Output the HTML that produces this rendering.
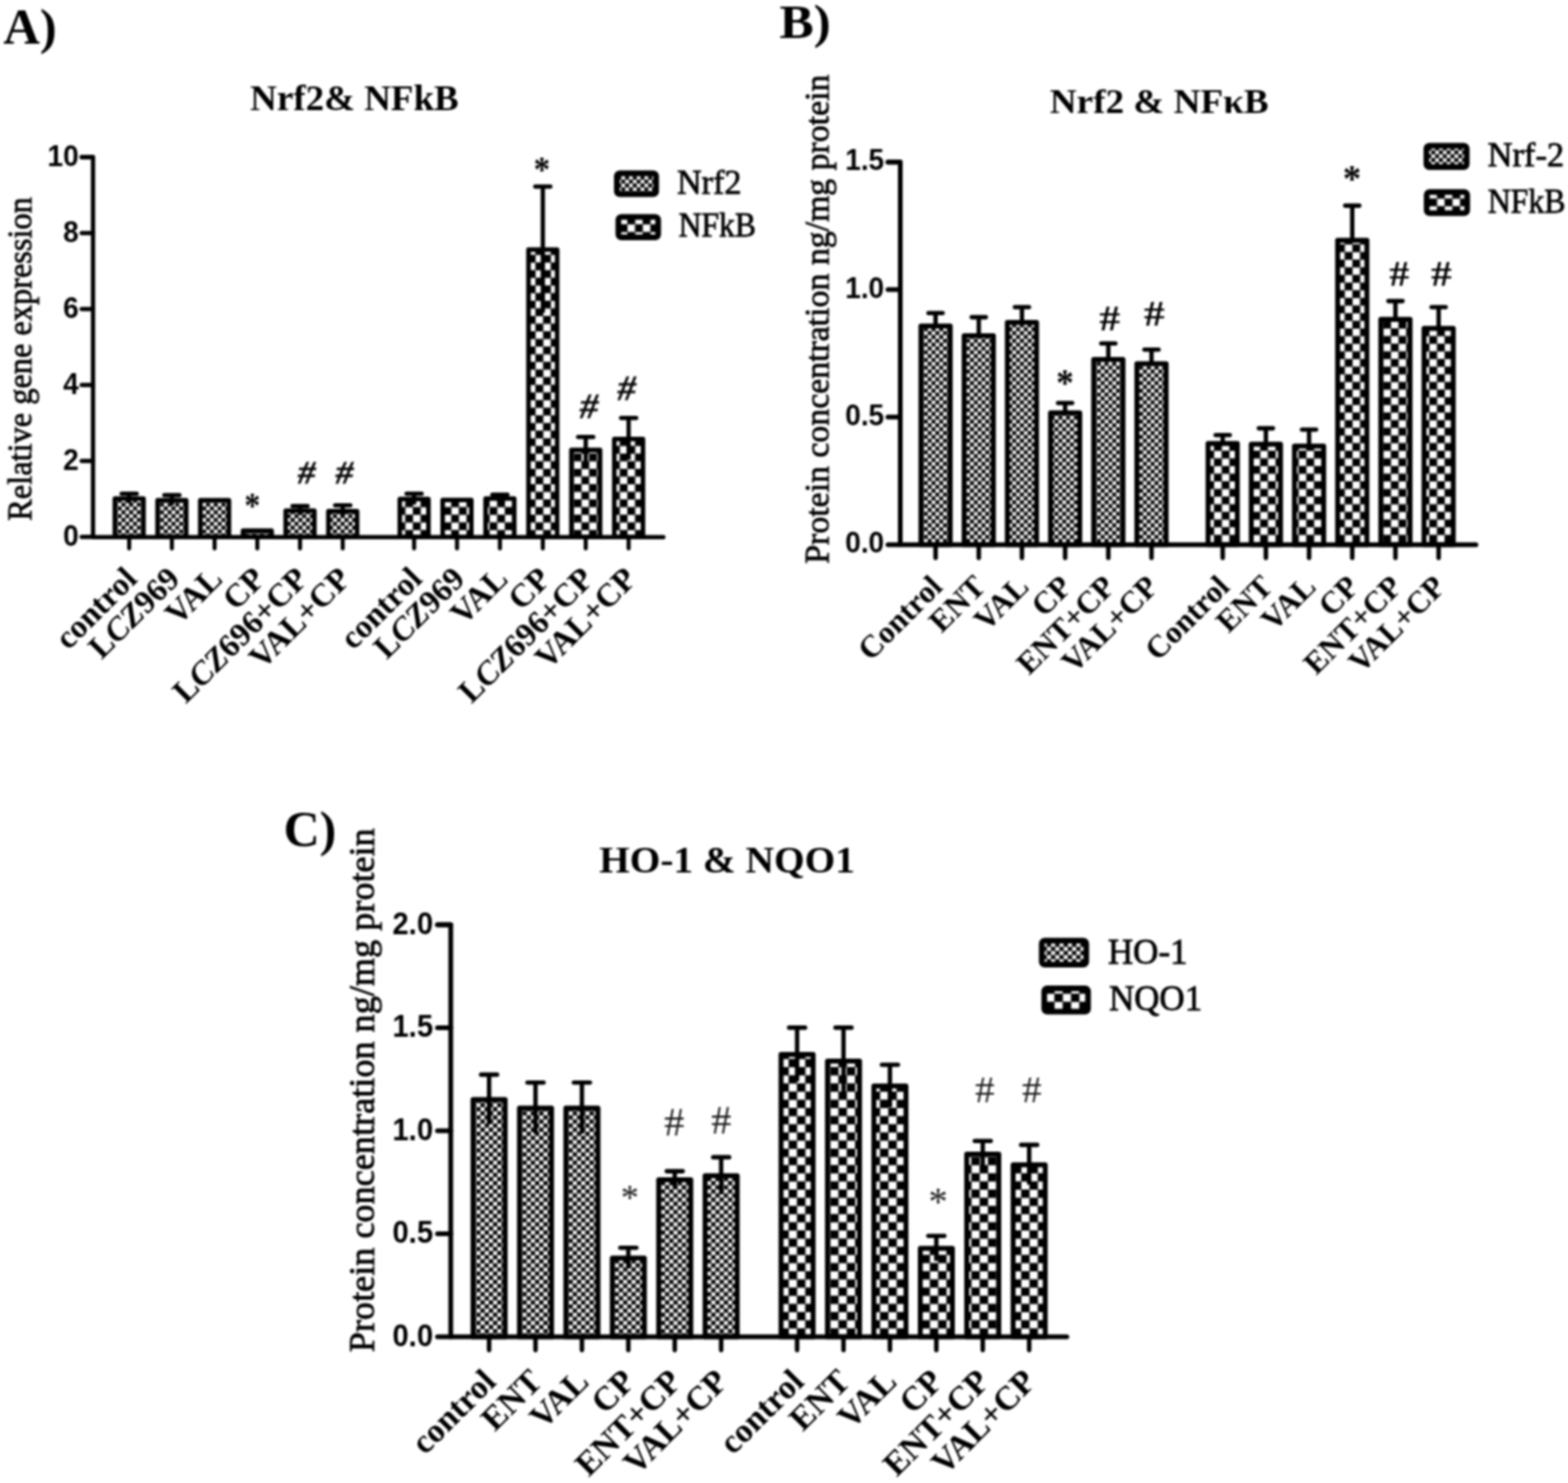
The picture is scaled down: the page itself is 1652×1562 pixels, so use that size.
<!DOCTYPE html>
<html><head><meta charset="utf-8"><title>Figure</title>
<style>html,body{margin:0;padding:0;background:#fff;}body{width:1652px;height:1562px;overflow:hidden;}svg{display:block;filter:blur(0.9px);}</style>
</head><body>
<svg width="1652" height="1562" viewBox="0 0 1652 1562"><defs>
<pattern id="fA" patternUnits="userSpaceOnUse" width="8.100" height="8.100" x="128.10" y="533.50"><rect width="8.100" height="8.100" fill="#000"/><rect x="0.061" y="0.061" width="3.928" height="3.928" fill="#fff"/><rect x="4.111" y="4.111" width="3.928" height="3.928" fill="#fff"/></pattern>
<pattern id="cA" patternUnits="userSpaceOnUse" width="16.140" height="16.100" x="564.20" y="397.30"><rect width="16.140" height="16.100" fill="#000"/><rect x="0.121" y="0.121" width="7.828" height="7.809" fill="#fff"/><rect x="8.191" y="8.171" width="7.828" height="7.809" fill="#fff"/></pattern>
<pattern id="fB" patternUnits="userSpaceOnUse" width="8.100" height="8.100" x="1022.00" y="405.50"><rect width="8.100" height="8.100" fill="#000"/><rect x="0.061" y="0.061" width="3.928" height="3.928" fill="#fff"/><rect x="4.111" y="4.111" width="3.928" height="3.928" fill="#fff"/></pattern>
<pattern id="cB" patternUnits="userSpaceOnUse" width="16.200" height="16.100" x="1457.30" y="410.40"><rect width="16.200" height="16.100" fill="#000"/><rect x="0.122" y="0.121" width="7.857" height="7.809" fill="#fff"/><rect x="8.221" y="8.171" width="7.857" height="7.809" fill="#fff"/></pattern>
<pattern id="fC" patternUnits="userSpaceOnUse" width="8.840" height="8.660" x="506.24" y="1252.73"><rect width="8.840" height="8.660" fill="#000"/><rect x="0.066" y="0.065" width="4.287" height="4.200" fill="#fff"/><rect x="4.486" y="4.395" width="4.287" height="4.200" fill="#fff"/></pattern>
<pattern id="cC" patternUnits="userSpaceOnUse" width="17.500" height="17.200" x="839.70" y="1253.00"><rect width="17.500" height="17.200" fill="#000"/><rect x="0.131" y="0.129" width="8.487" height="8.342" fill="#fff"/><rect x="8.881" y="8.729" width="8.487" height="8.342" fill="#fff"/></pattern>
</defs><rect width="1652" height="1562" fill="#fff"/><rect x="121.00" y="525.10" width="30.20" height="40.60" fill="url(#fA)" stroke="#000" stroke-width="4.8" stroke-linejoin="round"/>
<rect x="166.00" y="526.90" width="30.20" height="38.80" fill="url(#fA)" stroke="#000" stroke-width="4.8" stroke-linejoin="round"/>
<rect x="211.00" y="526.90" width="30.20" height="38.80" fill="url(#fA)" stroke="#000" stroke-width="4.8" stroke-linejoin="round"/>
<rect x="256.00" y="559.00" width="30.20" height="6.70" fill="url(#fA)" stroke="#000" stroke-width="4.8" stroke-linejoin="round"/>
<rect x="301.00" y="537.80" width="30.20" height="27.90" fill="url(#fA)" stroke="#000" stroke-width="4.8" stroke-linejoin="round"/>
<rect x="346.00" y="538.40" width="30.20" height="27.30" fill="url(#fA)" stroke="#000" stroke-width="4.8" stroke-linejoin="round"/>
<rect x="421.20" y="525.70" width="30.20" height="40.00" fill="url(#cA)" stroke="#000" stroke-width="4.8" stroke-linejoin="round"/>
<rect x="466.40" y="526.60" width="30.20" height="39.10" fill="url(#cA)" stroke="#000" stroke-width="4.8" stroke-linejoin="round"/>
<rect x="511.60" y="525.10" width="30.20" height="40.60" fill="url(#cA)" stroke="#000" stroke-width="4.8" stroke-linejoin="round"/>
<rect x="556.80" y="262.80" width="30.20" height="302.90" fill="url(#cA)" stroke="#000" stroke-width="4.8" stroke-linejoin="round"/>
<rect x="602.00" y="474.00" width="30.20" height="91.70" fill="url(#cA)" stroke="#000" stroke-width="4.8" stroke-linejoin="round"/>
<rect x="647.20" y="462.30" width="30.20" height="103.40" fill="url(#cA)" stroke="#000" stroke-width="4.8" stroke-linejoin="round"/>
<line x1="136.10" y1="520.00" x2="136.10" y2="530.20" stroke="#000" stroke-width="4.5" stroke-linecap="butt"/>
<line x1="128.10" y1="520.00" x2="144.10" y2="520.00" stroke="#000" stroke-width="4.5" stroke-linecap="round"/>
<line x1="181.10" y1="521.60" x2="181.10" y2="532.20" stroke="#000" stroke-width="4.5" stroke-linecap="butt"/>
<line x1="173.10" y1="521.60" x2="189.10" y2="521.60" stroke="#000" stroke-width="4.5" stroke-linecap="round"/>
<line x1="316.10" y1="533.00" x2="316.10" y2="542.60" stroke="#000" stroke-width="4.5" stroke-linecap="butt"/>
<line x1="308.10" y1="533.00" x2="324.10" y2="533.00" stroke="#000" stroke-width="4.5" stroke-linecap="round"/>
<line x1="361.10" y1="532.30" x2="361.10" y2="544.50" stroke="#000" stroke-width="4.5" stroke-linecap="butt"/>
<line x1="353.10" y1="532.30" x2="369.10" y2="532.30" stroke="#000" stroke-width="4.5" stroke-linecap="round"/>
<line x1="436.30" y1="520.00" x2="436.30" y2="531.40" stroke="#000" stroke-width="4.5" stroke-linecap="butt"/>
<line x1="428.30" y1="520.00" x2="444.30" y2="520.00" stroke="#000" stroke-width="4.5" stroke-linecap="round"/>
<line x1="526.70" y1="521.00" x2="526.70" y2="529.20" stroke="#000" stroke-width="4.5" stroke-linecap="butt"/>
<line x1="518.70" y1="521.00" x2="534.70" y2="521.00" stroke="#000" stroke-width="4.5" stroke-linecap="round"/>
<line x1="571.90" y1="196.40" x2="571.90" y2="329.20" stroke="#000" stroke-width="4.5" stroke-linecap="butt"/>
<line x1="563.90" y1="196.40" x2="579.90" y2="196.40" stroke="#000" stroke-width="4.5" stroke-linecap="round"/>
<line x1="617.10" y1="460.30" x2="617.10" y2="487.70" stroke="#000" stroke-width="4.5" stroke-linecap="butt"/>
<line x1="609.10" y1="460.30" x2="625.10" y2="460.30" stroke="#000" stroke-width="4.5" stroke-linecap="round"/>
<line x1="662.30" y1="440.30" x2="662.30" y2="484.30" stroke="#000" stroke-width="4.5" stroke-linecap="butt"/>
<line x1="654.30" y1="440.30" x2="670.30" y2="440.30" stroke="#000" stroke-width="4.5" stroke-linecap="round"/>
<path d="M86.00,165.40 H98.00 V565.70 H699.00" fill="none" stroke="#000" stroke-width="4.5" stroke-linejoin="round" stroke-linecap="round"/>
<line x1="86.00" y1="165.40" x2="98.00" y2="165.40" stroke="#000" stroke-width="4.5" stroke-linecap="round"/>
<line x1="86.00" y1="245.40" x2="98.00" y2="245.40" stroke="#000" stroke-width="4.5" stroke-linecap="round"/>
<line x1="86.00" y1="325.40" x2="98.00" y2="325.40" stroke="#000" stroke-width="4.5" stroke-linecap="round"/>
<line x1="86.00" y1="405.40" x2="98.00" y2="405.40" stroke="#000" stroke-width="4.5" stroke-linecap="round"/>
<line x1="86.00" y1="485.40" x2="98.00" y2="485.40" stroke="#000" stroke-width="4.5" stroke-linecap="round"/>
<line x1="86.00" y1="565.40" x2="98.00" y2="565.40" stroke="#000" stroke-width="4.5" stroke-linecap="round"/>
<line x1="136.10" y1="565.70" x2="136.10" y2="577.70" stroke="#000" stroke-width="4.2749999999999995" stroke-linecap="round"/>
<line x1="181.10" y1="565.70" x2="181.10" y2="577.70" stroke="#000" stroke-width="4.2749999999999995" stroke-linecap="round"/>
<line x1="226.10" y1="565.70" x2="226.10" y2="577.70" stroke="#000" stroke-width="4.2749999999999995" stroke-linecap="round"/>
<line x1="271.10" y1="565.70" x2="271.10" y2="577.70" stroke="#000" stroke-width="4.2749999999999995" stroke-linecap="round"/>
<line x1="316.10" y1="565.70" x2="316.10" y2="577.70" stroke="#000" stroke-width="4.2749999999999995" stroke-linecap="round"/>
<line x1="361.10" y1="565.70" x2="361.10" y2="577.70" stroke="#000" stroke-width="4.2749999999999995" stroke-linecap="round"/>
<line x1="436.30" y1="565.70" x2="436.30" y2="577.70" stroke="#000" stroke-width="4.2749999999999995" stroke-linecap="round"/>
<line x1="481.50" y1="565.70" x2="481.50" y2="577.70" stroke="#000" stroke-width="4.2749999999999995" stroke-linecap="round"/>
<line x1="526.70" y1="565.70" x2="526.70" y2="577.70" stroke="#000" stroke-width="4.2749999999999995" stroke-linecap="round"/>
<line x1="571.90" y1="565.70" x2="571.90" y2="577.70" stroke="#000" stroke-width="4.2749999999999995" stroke-linecap="round"/>
<line x1="617.10" y1="565.70" x2="617.10" y2="577.70" stroke="#000" stroke-width="4.2749999999999995" stroke-linecap="round"/>
<line x1="662.30" y1="565.70" x2="662.30" y2="577.70" stroke="#000" stroke-width="4.2749999999999995" stroke-linecap="round"/>
<rect x="970.30" y="343.40" width="30.80" height="230.30" fill="url(#fB)" stroke="#000" stroke-width="5.2" stroke-linejoin="round"/>
<rect x="1015.80" y="353.50" width="30.80" height="220.20" fill="url(#fB)" stroke="#000" stroke-width="5.2" stroke-linejoin="round"/>
<rect x="1061.30" y="339.60" width="30.80" height="234.10" fill="url(#fB)" stroke="#000" stroke-width="5.2" stroke-linejoin="round"/>
<rect x="1106.80" y="434.80" width="30.80" height="138.90" fill="url(#fB)" stroke="#000" stroke-width="5.2" stroke-linejoin="round"/>
<rect x="1152.30" y="378.50" width="30.80" height="195.20" fill="url(#fB)" stroke="#000" stroke-width="5.2" stroke-linejoin="round"/>
<rect x="1197.80" y="383.00" width="30.80" height="190.70" fill="url(#fB)" stroke="#000" stroke-width="5.2" stroke-linejoin="round"/>
<rect x="1272.80" y="467.10" width="30.80" height="106.60" fill="url(#cB)" stroke="#000" stroke-width="5.2" stroke-linejoin="round"/>
<rect x="1318.30" y="467.80" width="30.80" height="105.90" fill="url(#cB)" stroke="#000" stroke-width="5.2" stroke-linejoin="round"/>
<rect x="1363.80" y="469.90" width="30.80" height="103.80" fill="url(#cB)" stroke="#000" stroke-width="5.2" stroke-linejoin="round"/>
<rect x="1409.30" y="253.10" width="30.80" height="320.60" fill="url(#cB)" stroke="#000" stroke-width="5.2" stroke-linejoin="round"/>
<rect x="1454.80" y="336.30" width="30.80" height="237.40" fill="url(#cB)" stroke="#000" stroke-width="5.2" stroke-linejoin="round"/>
<rect x="1500.30" y="345.90" width="30.80" height="227.80" fill="url(#cB)" stroke="#000" stroke-width="5.2" stroke-linejoin="round"/>
<line x1="985.70" y1="329.80" x2="985.70" y2="343.40" stroke="#000" stroke-width="4.6" stroke-linecap="butt"/>
<line x1="978.20" y1="329.80" x2="993.20" y2="329.80" stroke="#000" stroke-width="4.6" stroke-linecap="round"/>
<line x1="1031.20" y1="334.10" x2="1031.20" y2="353.50" stroke="#000" stroke-width="4.6" stroke-linecap="butt"/>
<line x1="1023.70" y1="334.10" x2="1038.70" y2="334.10" stroke="#000" stroke-width="4.6" stroke-linecap="round"/>
<line x1="1076.70" y1="323.50" x2="1076.70" y2="339.60" stroke="#000" stroke-width="4.6" stroke-linecap="butt"/>
<line x1="1069.20" y1="323.50" x2="1084.20" y2="323.50" stroke="#000" stroke-width="4.6" stroke-linecap="round"/>
<line x1="1122.20" y1="424.50" x2="1122.20" y2="434.80" stroke="#000" stroke-width="4.6" stroke-linecap="butt"/>
<line x1="1114.70" y1="424.50" x2="1129.70" y2="424.50" stroke="#000" stroke-width="4.6" stroke-linecap="round"/>
<line x1="1167.70" y1="361.80" x2="1167.70" y2="378.50" stroke="#000" stroke-width="4.6" stroke-linecap="butt"/>
<line x1="1160.20" y1="361.80" x2="1175.20" y2="361.80" stroke="#000" stroke-width="4.6" stroke-linecap="round"/>
<line x1="1213.20" y1="368.20" x2="1213.20" y2="383.00" stroke="#000" stroke-width="4.6" stroke-linecap="butt"/>
<line x1="1205.70" y1="368.20" x2="1220.70" y2="368.20" stroke="#000" stroke-width="4.6" stroke-linecap="round"/>
<line x1="1288.20" y1="458.20" x2="1288.20" y2="467.10" stroke="#000" stroke-width="4.6" stroke-linecap="butt"/>
<line x1="1280.70" y1="458.20" x2="1295.70" y2="458.20" stroke="#000" stroke-width="4.6" stroke-linecap="round"/>
<line x1="1333.70" y1="451.10" x2="1333.70" y2="467.80" stroke="#000" stroke-width="4.6" stroke-linecap="butt"/>
<line x1="1326.20" y1="451.10" x2="1341.20" y2="451.10" stroke="#000" stroke-width="4.6" stroke-linecap="round"/>
<line x1="1379.20" y1="452.50" x2="1379.20" y2="469.90" stroke="#000" stroke-width="4.6" stroke-linecap="butt"/>
<line x1="1371.70" y1="452.50" x2="1386.70" y2="452.50" stroke="#000" stroke-width="4.6" stroke-linecap="round"/>
<line x1="1424.70" y1="216.60" x2="1424.70" y2="253.10" stroke="#000" stroke-width="4.6" stroke-linecap="butt"/>
<line x1="1417.20" y1="216.60" x2="1432.20" y2="216.60" stroke="#000" stroke-width="4.6" stroke-linecap="round"/>
<line x1="1470.20" y1="317.10" x2="1470.20" y2="336.30" stroke="#000" stroke-width="4.6" stroke-linecap="butt"/>
<line x1="1462.70" y1="317.10" x2="1477.70" y2="317.10" stroke="#000" stroke-width="4.6" stroke-linecap="round"/>
<line x1="1515.70" y1="323.50" x2="1515.70" y2="345.90" stroke="#000" stroke-width="4.6" stroke-linecap="butt"/>
<line x1="1508.20" y1="323.50" x2="1523.20" y2="323.50" stroke="#000" stroke-width="4.6" stroke-linecap="round"/>
<path d="M935.50,170.70 H948.50 V573.70 H1555.00" fill="none" stroke="#000" stroke-width="5.0" stroke-linejoin="round" stroke-linecap="round"/>
<line x1="935.50" y1="170.70" x2="948.50" y2="170.70" stroke="#000" stroke-width="5.0" stroke-linecap="round"/>
<line x1="935.50" y1="305.03" x2="948.50" y2="305.03" stroke="#000" stroke-width="5.0" stroke-linecap="round"/>
<line x1="935.50" y1="439.36" x2="948.50" y2="439.36" stroke="#000" stroke-width="5.0" stroke-linecap="round"/>
<line x1="935.50" y1="573.69" x2="948.50" y2="573.69" stroke="#000" stroke-width="5.0" stroke-linecap="round"/>
<line x1="985.70" y1="573.70" x2="985.70" y2="587.70" stroke="#000" stroke-width="4.75" stroke-linecap="round"/>
<line x1="1031.20" y1="573.70" x2="1031.20" y2="587.70" stroke="#000" stroke-width="4.75" stroke-linecap="round"/>
<line x1="1076.70" y1="573.70" x2="1076.70" y2="587.70" stroke="#000" stroke-width="4.75" stroke-linecap="round"/>
<line x1="1122.20" y1="573.70" x2="1122.20" y2="587.70" stroke="#000" stroke-width="4.75" stroke-linecap="round"/>
<line x1="1167.70" y1="573.70" x2="1167.70" y2="587.70" stroke="#000" stroke-width="4.75" stroke-linecap="round"/>
<line x1="1213.20" y1="573.70" x2="1213.20" y2="587.70" stroke="#000" stroke-width="4.75" stroke-linecap="round"/>
<line x1="1288.20" y1="573.70" x2="1288.20" y2="587.70" stroke="#000" stroke-width="4.75" stroke-linecap="round"/>
<line x1="1333.70" y1="573.70" x2="1333.70" y2="587.70" stroke="#000" stroke-width="4.75" stroke-linecap="round"/>
<line x1="1379.20" y1="573.70" x2="1379.20" y2="587.70" stroke="#000" stroke-width="4.75" stroke-linecap="round"/>
<line x1="1424.70" y1="573.70" x2="1424.70" y2="587.70" stroke="#000" stroke-width="4.75" stroke-linecap="round"/>
<line x1="1470.20" y1="573.70" x2="1470.20" y2="587.70" stroke="#000" stroke-width="4.75" stroke-linecap="round"/>
<line x1="1515.70" y1="573.70" x2="1515.70" y2="587.70" stroke="#000" stroke-width="4.75" stroke-linecap="round"/>
<rect x="498.40" y="1158.10" width="33.80" height="249.90" fill="url(#fC)" stroke="#000" stroke-width="5.2" stroke-linejoin="round"/>
<rect x="547.30" y="1167.10" width="33.80" height="240.90" fill="url(#fC)" stroke="#000" stroke-width="5.2" stroke-linejoin="round"/>
<rect x="596.20" y="1167.10" width="33.80" height="240.90" fill="url(#fC)" stroke="#000" stroke-width="5.2" stroke-linejoin="round"/>
<rect x="645.10" y="1325.20" width="33.80" height="82.80" fill="url(#fC)" stroke="#000" stroke-width="5.2" stroke-linejoin="round"/>
<rect x="694.00" y="1242.70" width="33.80" height="165.30" fill="url(#fC)" stroke="#000" stroke-width="5.2" stroke-linejoin="round"/>
<rect x="742.90" y="1238.40" width="33.80" height="169.60" fill="url(#fC)" stroke="#000" stroke-width="5.2" stroke-linejoin="round"/>
<rect x="822.90" y="1110.60" width="33.80" height="297.40" fill="url(#cC)" stroke="#000" stroke-width="5.2" stroke-linejoin="round"/>
<rect x="871.80" y="1117.70" width="33.80" height="290.30" fill="url(#cC)" stroke="#000" stroke-width="5.2" stroke-linejoin="round"/>
<rect x="920.70" y="1143.90" width="33.80" height="264.10" fill="url(#cC)" stroke="#000" stroke-width="5.2" stroke-linejoin="round"/>
<rect x="969.60" y="1314.90" width="33.80" height="93.10" fill="url(#cC)" stroke="#000" stroke-width="5.2" stroke-linejoin="round"/>
<rect x="1018.50" y="1215.60" width="33.80" height="192.40" fill="url(#cC)" stroke="#000" stroke-width="5.2" stroke-linejoin="round"/>
<rect x="1067.40" y="1226.80" width="33.80" height="181.20" fill="url(#cC)" stroke="#000" stroke-width="5.2" stroke-linejoin="round"/>
<line x1="515.30" y1="1131.90" x2="515.30" y2="1184.30" stroke="#000" stroke-width="4.6" stroke-linecap="butt"/>
<line x1="506.80" y1="1131.90" x2="523.80" y2="1131.90" stroke="#000" stroke-width="4.6" stroke-linecap="round"/>
<line x1="564.20" y1="1140.20" x2="564.20" y2="1194.00" stroke="#000" stroke-width="4.6" stroke-linecap="butt"/>
<line x1="555.70" y1="1140.20" x2="572.70" y2="1140.20" stroke="#000" stroke-width="4.6" stroke-linecap="round"/>
<line x1="613.10" y1="1140.20" x2="613.10" y2="1194.00" stroke="#000" stroke-width="4.6" stroke-linecap="butt"/>
<line x1="604.60" y1="1140.20" x2="621.60" y2="1140.20" stroke="#000" stroke-width="4.6" stroke-linecap="round"/>
<line x1="662.00" y1="1314.30" x2="662.00" y2="1336.10" stroke="#000" stroke-width="4.6" stroke-linecap="butt"/>
<line x1="653.50" y1="1314.30" x2="670.50" y2="1314.30" stroke="#000" stroke-width="4.6" stroke-linecap="round"/>
<line x1="710.90" y1="1233.60" x2="710.90" y2="1251.80" stroke="#000" stroke-width="4.6" stroke-linecap="butt"/>
<line x1="702.40" y1="1233.60" x2="719.40" y2="1233.60" stroke="#000" stroke-width="4.6" stroke-linecap="round"/>
<line x1="759.80" y1="1218.90" x2="759.80" y2="1257.90" stroke="#000" stroke-width="4.6" stroke-linecap="butt"/>
<line x1="751.30" y1="1218.90" x2="768.30" y2="1218.90" stroke="#000" stroke-width="4.6" stroke-linecap="round"/>
<line x1="839.80" y1="1082.40" x2="839.80" y2="1138.80" stroke="#000" stroke-width="4.6" stroke-linecap="butt"/>
<line x1="831.30" y1="1082.40" x2="848.30" y2="1082.40" stroke="#000" stroke-width="4.6" stroke-linecap="round"/>
<line x1="888.70" y1="1082.40" x2="888.70" y2="1153.00" stroke="#000" stroke-width="4.6" stroke-linecap="butt"/>
<line x1="880.20" y1="1082.40" x2="897.20" y2="1082.40" stroke="#000" stroke-width="4.6" stroke-linecap="round"/>
<line x1="937.60" y1="1121.50" x2="937.60" y2="1166.30" stroke="#000" stroke-width="4.6" stroke-linecap="butt"/>
<line x1="929.10" y1="1121.50" x2="946.10" y2="1121.50" stroke="#000" stroke-width="4.6" stroke-linecap="round"/>
<line x1="986.50" y1="1301.70" x2="986.50" y2="1328.10" stroke="#000" stroke-width="4.6" stroke-linecap="butt"/>
<line x1="978.00" y1="1301.70" x2="995.00" y2="1301.70" stroke="#000" stroke-width="4.6" stroke-linecap="round"/>
<line x1="1035.40" y1="1201.70" x2="1035.40" y2="1229.50" stroke="#000" stroke-width="4.6" stroke-linecap="butt"/>
<line x1="1026.90" y1="1201.70" x2="1043.90" y2="1201.70" stroke="#000" stroke-width="4.6" stroke-linecap="round"/>
<line x1="1084.30" y1="1205.90" x2="1084.30" y2="1247.70" stroke="#000" stroke-width="4.6" stroke-linecap="butt"/>
<line x1="1075.80" y1="1205.90" x2="1092.80" y2="1205.90" stroke="#000" stroke-width="4.6" stroke-linecap="round"/>
<path d="M460.90,974.00 H474.90 V1408.00 H1124.00" fill="none" stroke="#000" stroke-width="5.0" stroke-linejoin="round" stroke-linecap="round"/>
<line x1="460.90" y1="974.00" x2="474.90" y2="974.00" stroke="#000" stroke-width="5.0" stroke-linecap="round"/>
<line x1="460.90" y1="1082.50" x2="474.90" y2="1082.50" stroke="#000" stroke-width="5.0" stroke-linecap="round"/>
<line x1="460.90" y1="1191.00" x2="474.90" y2="1191.00" stroke="#000" stroke-width="5.0" stroke-linecap="round"/>
<line x1="460.90" y1="1299.50" x2="474.90" y2="1299.50" stroke="#000" stroke-width="5.0" stroke-linecap="round"/>
<line x1="460.90" y1="1408.00" x2="474.90" y2="1408.00" stroke="#000" stroke-width="5.0" stroke-linecap="round"/>
<line x1="515.30" y1="1408.00" x2="515.30" y2="1422.00" stroke="#000" stroke-width="4.75" stroke-linecap="round"/>
<line x1="564.20" y1="1408.00" x2="564.20" y2="1422.00" stroke="#000" stroke-width="4.75" stroke-linecap="round"/>
<line x1="613.10" y1="1408.00" x2="613.10" y2="1422.00" stroke="#000" stroke-width="4.75" stroke-linecap="round"/>
<line x1="662.00" y1="1408.00" x2="662.00" y2="1422.00" stroke="#000" stroke-width="4.75" stroke-linecap="round"/>
<line x1="710.90" y1="1408.00" x2="710.90" y2="1422.00" stroke="#000" stroke-width="4.75" stroke-linecap="round"/>
<line x1="759.80" y1="1408.00" x2="759.80" y2="1422.00" stroke="#000" stroke-width="4.75" stroke-linecap="round"/>
<line x1="839.80" y1="1408.00" x2="839.80" y2="1422.00" stroke="#000" stroke-width="4.75" stroke-linecap="round"/>
<line x1="888.70" y1="1408.00" x2="888.70" y2="1422.00" stroke="#000" stroke-width="4.75" stroke-linecap="round"/>
<line x1="937.60" y1="1408.00" x2="937.60" y2="1422.00" stroke="#000" stroke-width="4.75" stroke-linecap="round"/>
<line x1="986.50" y1="1408.00" x2="986.50" y2="1422.00" stroke="#000" stroke-width="4.75" stroke-linecap="round"/>
<line x1="1035.40" y1="1408.00" x2="1035.40" y2="1422.00" stroke="#000" stroke-width="4.75" stroke-linecap="round"/>
<line x1="1084.30" y1="1408.00" x2="1084.30" y2="1422.00" stroke="#000" stroke-width="4.75" stroke-linecap="round"/>
<text transform="translate(3.47,45.80) scale(1.0022,1)" font-family="'Liberation Serif', serif" font-weight="bold" font-size="53.28" fill="#000">A)</text>
<text transform="translate(821.19,39.50) scale(1.0913,1)" font-family="'Liberation Serif', serif" font-weight="bold" font-size="49.62" fill="#000">B)</text>
<text transform="translate(298.66,891.00) scale(1.0174,1)" font-family="'Liberation Serif', serif" font-weight="bold" font-size="51.91" fill="#000">C)</text>
<text transform="translate(263.62,115.60) scale(1.0213,1)" font-family="'Liberation Serif', serif" font-weight="bold" font-size="38.17" fill="#000">Nrf2&amp; NFkB</text>
<text transform="translate(1106.02,118.60) scale(1.0874,1)" font-family="'Liberation Serif', serif" font-weight="bold" font-size="36.03" fill="#000">Nrf2 &amp; NFκB</text>
<text transform="translate(631.18,919.00) scale(1.0330,1)" font-family="'Liberation Serif', serif" font-weight="bold" font-size="40.15" fill="#000">HO-1 &amp; NQO1</text>
<text transform="translate(32.70,548.42) rotate(-90) scale(0.9589,1)" font-family="'Liberation Serif', serif" font-weight="normal" font-size="35.57" stroke="#000" stroke-width="0.800" fill="#000">Relative gene expression</text>
<text transform="translate(873.30,593.77) rotate(-90) scale(0.9886,1)" font-family="'Liberation Serif', serif" font-weight="normal" font-size="36.03" stroke="#000" stroke-width="0.800" fill="#000">Protein concentration ng/mg protein</text>
<text transform="translate(393.90,1424.34) rotate(-90) scale(1.0287,1)" font-family="'Liberation Serif', serif" font-weight="normal" font-size="37.10" stroke="#000" stroke-width="0.800" fill="#000">Protein concentration ng/mg protein</text>
<text transform="translate(83.00,174.90) scale(0.92,1)" text-anchor="end" font-family="'Liberation Sans', sans-serif" font-weight="bold" font-size="32.20">10</text>
<text transform="translate(83.00,254.90) scale(0.92,1)" text-anchor="end" font-family="'Liberation Sans', sans-serif" font-weight="bold" font-size="32.20">8</text>
<text transform="translate(83.00,334.90) scale(0.92,1)" text-anchor="end" font-family="'Liberation Sans', sans-serif" font-weight="bold" font-size="32.20">6</text>
<text transform="translate(83.00,414.90) scale(0.92,1)" text-anchor="end" font-family="'Liberation Sans', sans-serif" font-weight="bold" font-size="32.20">4</text>
<text transform="translate(83.00,494.90) scale(0.92,1)" text-anchor="end" font-family="'Liberation Sans', sans-serif" font-weight="bold" font-size="32.20">2</text>
<text transform="translate(83.00,574.90) scale(0.92,1)" text-anchor="end" font-family="'Liberation Sans', sans-serif" font-weight="bold" font-size="32.20">0</text>
<text transform="translate(931.60,179.20) scale(0.92,1)" text-anchor="end" font-family="'Liberation Sans', sans-serif" font-weight="bold" font-size="32.20">1.5</text>
<text transform="translate(931.60,313.53) scale(0.92,1)" text-anchor="end" font-family="'Liberation Sans', sans-serif" font-weight="bold" font-size="32.20">1.0</text>
<text transform="translate(931.60,447.86) scale(0.92,1)" text-anchor="end" font-family="'Liberation Sans', sans-serif" font-weight="bold" font-size="32.20">0.5</text>
<text transform="translate(931.60,582.19) scale(0.92,1)" text-anchor="end" font-family="'Liberation Sans', sans-serif" font-weight="bold" font-size="32.20">0.0</text>
<text transform="translate(456.30,983.60) scale(0.92,1)" text-anchor="end" font-family="'Liberation Sans', sans-serif" font-weight="bold" font-size="33.50">2.0</text>
<text transform="translate(456.30,1092.10) scale(0.92,1)" text-anchor="end" font-family="'Liberation Sans', sans-serif" font-weight="bold" font-size="33.50">1.5</text>
<text transform="translate(456.30,1200.60) scale(0.92,1)" text-anchor="end" font-family="'Liberation Sans', sans-serif" font-weight="bold" font-size="33.50">1.0</text>
<text transform="translate(456.30,1309.10) scale(0.92,1)" text-anchor="end" font-family="'Liberation Sans', sans-serif" font-weight="bold" font-size="33.50">0.5</text>
<text transform="translate(456.30,1417.60) scale(0.92,1)" text-anchor="end" font-family="'Liberation Sans', sans-serif" font-weight="bold" font-size="33.50">0.0</text>
<rect x="649.90" y="182.60" width="41.40" height="21.80" rx="3" fill="url(#fA)" stroke="#000" stroke-width="6"/>
<rect x="651.50" y="228.40" width="41.90" height="21.70" rx="3" fill="url(#cA)" stroke="#000" stroke-width="6"/>
<text transform="translate(713.32,204.10) scale(1.0049,1)" font-family="'Liberation Serif', serif" font-weight="normal" font-size="35.73" stroke="#000" stroke-width="0.800" fill="#000">Nrf2</text>
<text transform="translate(715.00,249.30) scale(0.9330,1)" font-family="'Liberation Serif', serif" font-weight="normal" font-size="35.73" stroke="#000" stroke-width="0.800" fill="#000">NFkB</text>
<rect x="1502.80" y="153.60" width="42.50" height="22.40" rx="3" fill="url(#fB)" stroke="#000" stroke-width="6"/>
<rect x="1503.10" y="202.30" width="42.70" height="22.20" rx="3" fill="url(#cB)" stroke="#000" stroke-width="6"/>
<text transform="translate(1567.31,175.10) scale(1.0118,1)" font-family="'Liberation Serif', serif" font-weight="normal" font-size="35.88" stroke="#000" stroke-width="0.800" fill="#000">Nrf-2</text>
<text transform="translate(1567.39,224.10) scale(0.9338,1)" font-family="'Liberation Serif', serif" font-weight="normal" font-size="35.88" stroke="#000" stroke-width="0.800" fill="#000">NFkB</text>
<rect x="1097.60" y="990.80" width="46.80" height="25.10" rx="3" fill="url(#fC)" stroke="#000" stroke-width="6"/>
<rect x="1100.20" y="1041.00" width="46.10" height="24.50" rx="3" fill="url(#cC)" stroke="#000" stroke-width="6"/>
<text transform="translate(1167.19,1014.50) scale(0.9997,1)" font-family="'Liberation Serif', serif" font-weight="normal" font-size="36.95" stroke="#000" stroke-width="0.800" fill="#000">HO-1</text>
<text transform="translate(1168.50,1064.10) scale(0.9954,1)" font-family="'Liberation Serif', serif" font-weight="normal" font-size="36.95" stroke="#000" stroke-width="0.800" fill="#000">NQO1</text>
<text transform="translate(257.56,545.30) scale(0.3349,0.3893)" font-family="'Liberation Serif', serif" font-weight="bold" font-size="100.00" fill="#000">*</text>
<text transform="translate(313.63,509.00) scale(0.3703,0.3359)" font-family="'Liberation Serif', serif" font-weight="normal" font-style="italic" font-size="100.00" stroke="#000" stroke-width="2.549" fill="#000">#</text>
<text transform="translate(353.43,509.00) scale(0.3723,0.3359)" font-family="'Liberation Serif', serif" font-weight="normal" font-style="italic" font-size="100.00" stroke="#000" stroke-width="2.542" fill="#000">#</text>
<text transform="translate(562.21,190.54) scale(0.3470,0.3840)" font-family="'Liberation Serif', serif" font-weight="bold" font-size="100.00" fill="#000">*</text>
<text transform="translate(610.81,440.30) scale(0.3881,0.3481)" font-family="'Liberation Serif', serif" font-weight="normal" font-style="italic" font-size="100.00" stroke="#000" stroke-width="2.445" fill="#000">#</text>
<text transform="translate(650.41,420.80) scale(0.3861,0.3557)" font-family="'Liberation Serif', serif" font-weight="normal" font-style="italic" font-size="100.00" stroke="#000" stroke-width="2.426" fill="#000">#</text>
<text transform="translate(1112.82,416.47) scale(0.3711,0.3920)" font-family="'Liberation Serif', serif" font-weight="bold" font-size="100.00" fill="#000">*</text>
<text transform="translate(1158.34,348.30) scale(0.4383,0.3802)" font-family="'Liberation Serif', serif" font-weight="bold" font-size="100.00" fill="#000">#</text>
<text transform="translate(1205.25,343.20) scale(0.4362,0.3802)" font-family="'Liberation Serif', serif" font-weight="bold" font-size="100.00" fill="#000">#</text>
<text transform="translate(1414.65,201.40) scale(0.3880,0.4107)" font-family="'Liberation Serif', serif" font-weight="bold" font-size="100.00" fill="#000">*</text>
<text transform="translate(1463.67,301.10) scale(0.4213,0.3710)" font-family="'Liberation Serif', serif" font-weight="bold" font-size="100.00" fill="#000">#</text>
<text transform="translate(1507.75,301.10) scale(0.4362,0.3710)" font-family="'Liberation Serif', serif" font-weight="bold" font-size="100.00" fill="#000">#</text>
<text transform="translate(653.99,1273.60) scale(0.3825,0.3863)" font-family="'Liberation Serif', serif" font-weight="normal" font-size="100.00" fill="#1a1a1a">*</text>
<text transform="translate(699.85,1196.00) scale(0.4261,0.4229)" font-family="'Liberation Serif', serif" font-weight="normal" font-size="100.00" fill="#1a1a1a">#</text>
<text transform="translate(749.35,1193.90) scale(0.4261,0.4244)" font-family="'Liberation Serif', serif" font-weight="normal" font-size="100.00" fill="#1a1a1a">#</text>
<text transform="translate(978.27,1280.22) scale(0.4050,0.4247)" font-family="'Liberation Serif', serif" font-weight="normal" font-size="100.00" fill="#1a1a1a">*</text>
<text transform="translate(1027.37,1160.80) scale(0.4130,0.4076)" font-family="'Liberation Serif', serif" font-weight="normal" font-size="100.00" fill="#1a1a1a">#</text>
<text transform="translate(1076.67,1160.80) scale(0.4130,0.4092)" font-family="'Liberation Serif', serif" font-weight="normal" font-size="100.00" fill="#1a1a1a">#</text>
<text transform="translate(146.10,611.50) rotate(-45)" text-anchor="end" font-family="'Liberation Serif', serif" font-weight="bold" font-size="34.50" fill="#000">control</text>
<text transform="translate(191.10,611.50) rotate(-45)" text-anchor="end" font-family="'Liberation Serif', serif" font-weight="bold" font-size="34.50" fill="#000">L<tspan font-style="italic">CZ</tspan>969</text>
<text transform="translate(236.10,611.50) rotate(-45)" text-anchor="end" font-family="'Liberation Serif', serif" font-weight="bold" font-size="34.50" fill="#000">VAL</text>
<text transform="translate(281.10,611.50) rotate(-45)" text-anchor="end" font-family="'Liberation Serif', serif" font-weight="bold" font-size="34.50" fill="#000">CP</text>
<text transform="translate(326.10,611.50) rotate(-45)" text-anchor="end" font-family="'Liberation Serif', serif" font-weight="bold" font-size="34.50" fill="#000">L<tspan font-style="italic">CZ</tspan>696+CP</text>
<text transform="translate(371.10,611.50) rotate(-45)" text-anchor="end" font-family="'Liberation Serif', serif" font-weight="bold" font-size="34.50" fill="#000">VAL+CP</text>
<text transform="translate(446.30,611.50) rotate(-45)" text-anchor="end" font-family="'Liberation Serif', serif" font-weight="bold" font-size="34.50" fill="#000">control</text>
<text transform="translate(491.50,611.50) rotate(-45)" text-anchor="end" font-family="'Liberation Serif', serif" font-weight="bold" font-size="34.50" fill="#000">L<tspan font-style="italic">CZ</tspan>969</text>
<text transform="translate(536.70,611.50) rotate(-45)" text-anchor="end" font-family="'Liberation Serif', serif" font-weight="bold" font-size="34.50" fill="#000">VAL</text>
<text transform="translate(581.90,611.50) rotate(-45)" text-anchor="end" font-family="'Liberation Serif', serif" font-weight="bold" font-size="34.50" fill="#000">CP</text>
<text transform="translate(627.10,611.50) rotate(-45)" text-anchor="end" font-family="'Liberation Serif', serif" font-weight="bold" font-size="34.50" fill="#000">L<tspan font-style="italic">CZ</tspan>696+CP</text>
<text transform="translate(672.30,611.50) rotate(-45)" text-anchor="end" font-family="'Liberation Serif', serif" font-weight="bold" font-size="34.50" fill="#000">VAL+CP</text>
<text transform="translate(994.60,619.70) rotate(-45)" text-anchor="end" font-family="'Liberation Serif', serif" font-weight="bold" font-size="33.00" fill="#000">Control</text>
<text transform="translate(1040.10,619.70) rotate(-45)" text-anchor="end" font-family="'Liberation Serif', serif" font-weight="bold" font-size="33.00" fill="#000">ENT</text>
<text transform="translate(1085.60,619.70) rotate(-45)" text-anchor="end" font-family="'Liberation Serif', serif" font-weight="bold" font-size="33.00" fill="#000">VAL</text>
<text transform="translate(1131.10,619.70) rotate(-45)" text-anchor="end" font-family="'Liberation Serif', serif" font-weight="bold" font-size="33.00" fill="#000">CP</text>
<text transform="translate(1176.60,619.70) rotate(-45)" text-anchor="end" font-family="'Liberation Serif', serif" font-weight="bold" font-size="33.00" fill="#000">ENT+CP</text>
<text transform="translate(1222.10,619.70) rotate(-45)" text-anchor="end" font-family="'Liberation Serif', serif" font-weight="bold" font-size="33.00" fill="#000">VAL+CP</text>
<text transform="translate(1297.10,619.70) rotate(-45)" text-anchor="end" font-family="'Liberation Serif', serif" font-weight="bold" font-size="33.00" fill="#000">Control</text>
<text transform="translate(1342.60,619.70) rotate(-45)" text-anchor="end" font-family="'Liberation Serif', serif" font-weight="bold" font-size="33.00" fill="#000">ENT</text>
<text transform="translate(1388.10,619.70) rotate(-45)" text-anchor="end" font-family="'Liberation Serif', serif" font-weight="bold" font-size="33.00" fill="#000">VAL</text>
<text transform="translate(1433.60,619.70) rotate(-45)" text-anchor="end" font-family="'Liberation Serif', serif" font-weight="bold" font-size="33.00" fill="#000">CP</text>
<text transform="translate(1479.10,619.70) rotate(-45)" text-anchor="end" font-family="'Liberation Serif', serif" font-weight="bold" font-size="33.00" fill="#000">ENT+CP</text>
<text transform="translate(1524.60,619.70) rotate(-45)" text-anchor="end" font-family="'Liberation Serif', serif" font-weight="bold" font-size="33.00" fill="#000">VAL+CP</text>
<text transform="translate(524.20,1456.90) rotate(-45)" text-anchor="end" font-family="'Liberation Serif', serif" font-weight="bold" font-size="35.60" fill="#000">control</text>
<text transform="translate(573.10,1456.90) rotate(-45)" text-anchor="end" font-family="'Liberation Serif', serif" font-weight="bold" font-size="35.60" fill="#000">ENT</text>
<text transform="translate(622.00,1456.90) rotate(-45)" text-anchor="end" font-family="'Liberation Serif', serif" font-weight="bold" font-size="35.60" fill="#000">VAL</text>
<text transform="translate(670.90,1456.90) rotate(-45)" text-anchor="end" font-family="'Liberation Serif', serif" font-weight="bold" font-size="35.60" fill="#000">CP</text>
<text transform="translate(719.80,1456.90) rotate(-45)" text-anchor="end" font-family="'Liberation Serif', serif" font-weight="bold" font-size="35.60" fill="#000">ENT+CP</text>
<text transform="translate(768.70,1456.90) rotate(-45)" text-anchor="end" font-family="'Liberation Serif', serif" font-weight="bold" font-size="35.60" fill="#000">VAL+CP</text>
<text transform="translate(848.70,1456.90) rotate(-45)" text-anchor="end" font-family="'Liberation Serif', serif" font-weight="bold" font-size="35.60" fill="#000">control</text>
<text transform="translate(897.60,1456.90) rotate(-45)" text-anchor="end" font-family="'Liberation Serif', serif" font-weight="bold" font-size="35.60" fill="#000">ENT</text>
<text transform="translate(946.50,1456.90) rotate(-45)" text-anchor="end" font-family="'Liberation Serif', serif" font-weight="bold" font-size="35.60" fill="#000">VAL</text>
<text transform="translate(995.40,1456.90) rotate(-45)" text-anchor="end" font-family="'Liberation Serif', serif" font-weight="bold" font-size="35.60" fill="#000">CP</text>
<text transform="translate(1044.30,1456.90) rotate(-45)" text-anchor="end" font-family="'Liberation Serif', serif" font-weight="bold" font-size="35.60" fill="#000">ENT+CP</text>
<text transform="translate(1093.20,1456.90) rotate(-45)" text-anchor="end" font-family="'Liberation Serif', serif" font-weight="bold" font-size="35.60" fill="#000">VAL+CP</text></svg>
</body></html>
